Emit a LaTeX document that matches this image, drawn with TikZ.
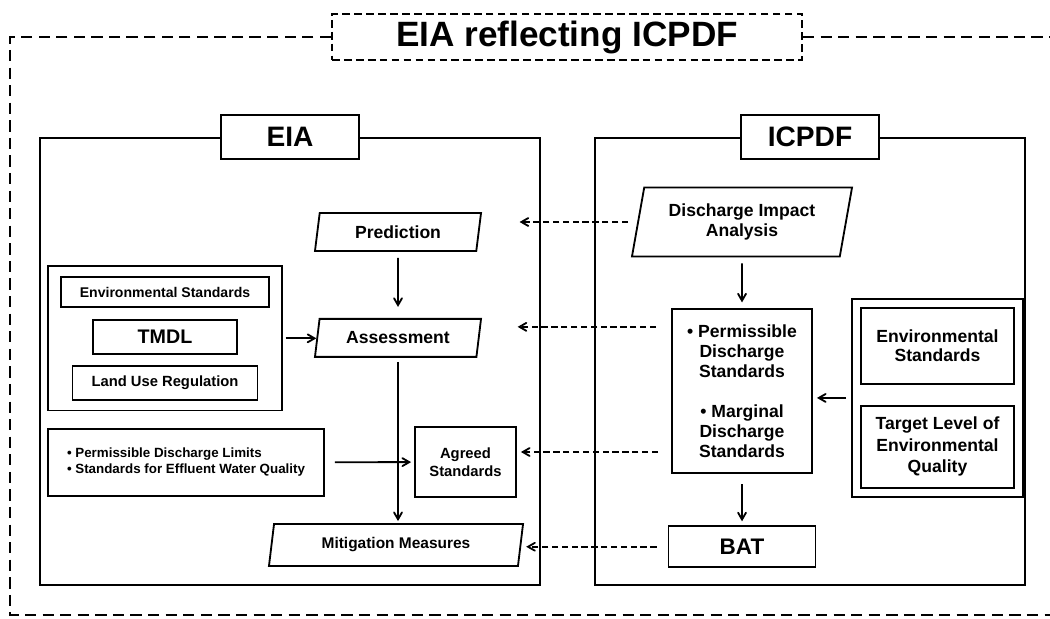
\documentclass[tikz,border=0pt]{standalone}
\usepackage{fontspec}
\setmainfont{Liberation Sans}
\usetikzlibrary{arrows}
\usetikzlibrary{fit}
\usetikzlibrary{positioning}
\usetikzlibrary{shapes.geometric}

\begin{document}
\begin{tikzpicture}[x=0.025cm,
                    y=-0.025cm,
                    >=angle 60,
                    line width=1.3pt,
                    box/.style={rectangle,draw,align=center,inner sep=2pt},
                    para/.style={trapezium,trapezium left angle=78,trapezium right angle=102,trapezium stretches body,draw,align=center},
                    tag/.style={rectangle,draw,fill=white,minimum width=3.45cm,minimum height=1.1cm,font=\fontsize{20}{24}\selectfont\bfseries},
                    frame/.style={dash pattern=on 8pt off 4.5pt},
                    flow/.style={->,dash pattern=on 4.5pt off 2.5pt}
                    ]
\useasboundingbox (0,0) rectangle (1050,618);
% frame
\node[draw,dash pattern=on 5.5pt off 3pt,fill=white,minimum width=11.75cm,minimum height=1.15cm,font=\fontsize{25}{29}\selectfont\bfseries] (0) at (567,37) {EIA reflecting ICPDF};
\draw[frame] (0.west) -- (10,37) -- (10,615) -- (1050,615);
\draw[frame] (0.east) -- (1050,37);

% EIA
\node[draw,minimum width=12.5cm,minimum height=11.175cm] (1) at (290,361.5) {};
\node[tag] (2) at (1.north) {EIA};
\node[para,minimum width=4.15cm,minimum height=0.95cm,font=\fontsize{12.5}{15}\selectfont\bfseries] (3) at (398,232) {Prediction};
\node[para,minimum width=4.15cm,minimum height=0.95cm,font=\fontsize{12.5}{15}\selectfont\bfseries] (4) [below=1.65cm of 3] {Assessment};
\node[para,minimum width=6.35cm,minimum height=1.05cm,font=\fontsize{11}{13}\selectfont\bfseries] (5) at (396,545) {Mitigation Measures};

\node[box,minimum width=5.2cm,minimum height=0.75cm,font=\fontsize{10}{12}\selectfont\bfseries] (6) at (165,292) {Environmental Standards};
\node[box,minimum width=3.6cm,minimum height=0.85cm,font=\fontsize{14}{17}\selectfont\bfseries] (7) [below=0.275cm of 6] {TMDL};
\node[box,minimum width=4.625cm,minimum height=0.85cm,font=\fontsize{10.5}{12.5}\selectfont\bfseries] (8) [below=0.25cm of 7] {Land Use Regulation};
\node[draw,line width=1pt,inner xsep=0.3cm,inner ysep=0.25cm,fit=(6) (7) (8)] (9) {};

\node[box,minimum width=6.9cm,minimum height=1.675cm,align=left,font=\fontsize{9.5}{11.4}\selectfont\bfseries] (10) at (186,462.5) {\textbullet\ Permissible Discharge Limits\\\textbullet\ Standards for Effluent Water Quality};
\node[box,minimum width=2.525cm,minimum height=1.75cm,font=\fontsize{10.5}{12.8}\selectfont\bfseries] (11) at (465.5,462) {Agreed\\Standards};

\draw [->,shorten <=0.15cm,shorten >=0.275cm] (3) -- (4);
\draw [->,shorten <=0.1cm,shorten >=0.05cm] (4.south) -- (4.south |- 5.north);
\draw [->,shorten <=0.075cm] (9.east) -- (9.east -| 4.west);
\draw [->,shorten <=0.25cm,shorten >=0.075cm] (10) -- (11);

% ICPDF
\node[draw,minimum width=10.75cm,minimum height=11.175cm] (12) at (810,361.5) {};
\node[tag] (13) at (12.north) {ICPDF};
\node[para,trapezium left angle=75,trapezium right angle=105,minimum width=5.5cm,minimum height=1.725cm,font=\fontsize{12.5}{14.2}\selectfont\bfseries] (14) at (742,222) {Discharge Impact\\Analysis};
\node[box,minimum width=3.5cm,minimum height=4.1cm,font=\fontsize{12.5}{14.2}\selectfont\bfseries] (15) [below=1.275cm of 14] {\textbullet\ Permissible\\Discharge\\Standards\\[14.2pt]\textbullet\ Marginal\\Discharge\\Standards};
\node[box,minimum width=3.675cm,minimum height=1.025cm,font=\fontsize{16}{19}\selectfont\bfseries] (16) [below=1.275cm of 15] {BAT};

\node[box,minimum width=3.825cm,minimum height=1.9cm,font=\fontsize{12.5}{13.5}\selectfont\bfseries] (17) at (937.5,346) {Environmental\\Standards};
\node[box,minimum width=3.825cm,minimum height=2.05cm,font=\fontsize{12.5}{15.3}\selectfont\bfseries] (18) [below=0.5cm of 17] {Target Level of\\Environmental\\Quality};
\node[draw,inner sep=0.2cm,fit=(17) (18)] (19) {};

\draw [->,shorten <=0.15cm,shorten >=0.15cm] (14) -- (15);
\draw [->,shorten <=0.25cm,shorten >=0.1cm] (15) -- (16);
\draw [->,shorten <=0.125cm,shorten >=0.1cm] (19.west) -- (19.west -| 15.east);

% ICPDF -> EIA
\coordinate (a1) at ([yshift=0.275cm]4.east);
\coordinate (a2) at ([yshift=0.25cm]11.east);
\draw [flow,shorten <=0.225cm,shorten >=1cm] (14.west) -- (14.west -| 3.east);
\draw [flow,shorten <=0.375cm,shorten >=0.95cm] (15.west |- a1) -- (a1);
\draw [flow,shorten <=0.325cm,shorten >=0.1cm] (15.west |- a2) -- (a2);
\draw [flow,shorten <=0.275cm,shorten >=0.12cm] (16.west) -- (16.west -| 5.east);
\end{tikzpicture}
\end{document}
